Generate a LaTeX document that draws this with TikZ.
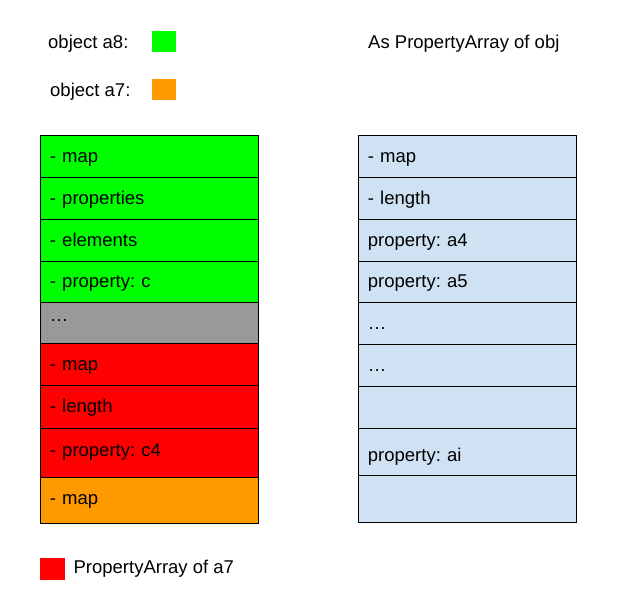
\documentclass[tikz,border=0pt]{standalone}
\usepackage{fontspec}
\setmainfont{Liberation Sans}
\usetikzlibrary{positioning}
\frenchspacing

\definecolor{objgreen}{HTML}{00FF00}
\definecolor{objorange}{HTML}{FF9900}
\definecolor{objred}{HTML}{FF0000}
\definecolor{objgray}{HTML}{999999}
\definecolor{arrblue}{HTML}{CFE2F3}

\tikzset{
  cell/.style={draw, line width=0.8pt, anchor=north west, inner xsep=9.5pt,
               inner ysep=0pt, text width=199pt, align=left, text height=14pt,
               text depth=2pt, minimum height=#1},
  key/.style={anchor=north west, minimum width=24pt, minimum height=21pt, inner sep=0pt},
  lbl/.style={anchor=west, inner sep=0pt},
}

\begin{document}
\begin{tikzpicture}[x=1pt, y=-1pt, every node/.append style={font=\fontsize{18.5}{22}\selectfont}]
    \useasboundingbox (0,0) rectangle (630,605);
    % legend
    \node[lbl] (a8txt) at (48,44) {object a8:};
    \node[key, fill=objgreen] (a8key) at (152,31) {};
    \node[lbl] (a7txt) at (50,92) {object a7:};
    \node[key, fill=objorange] (a7key) at (152,79) {};
    \node[lbl] (arrtitle) at (368,44) {As PropertyArray of obj};
    % object a8 / a7 in memory
    \foreach \i/\y/\h/\c/\t in {1/135/42/objgreen/- map,
                                2/177/42/objgreen/- properties,
                                3/219/42/objgreen/- elements,
                                4/261/41/objgreen/- property: c,
                                5/302/41/objgray/{\raisebox{7pt}{…}},
                                6/343/42/objred/- map,
                                7/385/43/objred/- length,
                                8/428/49/objred/{\raisebox{2pt}{- property: c4}},
                                9/477/46/objorange/{\raisebox{2pt}{- map}}}
      \node[cell=\h, fill=\c] (lcell\i) at (40,\y) {\t};
    % the PropertyArray
    \foreach \i/\y/\h/\t in {1/135/42/- map,
                             2/177/42/- length,
                             3/219/42/property: a4,
                             4/261/41/property: a5,
                             5/302/42/…,
                             6/344/42/…,
                             7/386/42/,
                             8/428/47/{\raisebox{-4pt}{property: ai}},
                             9/475/47/}
      \node[cell=\h, fill=arrblue] (rcell\i) at (358,\y) {\t};
    % key below
    \node[key, minimum width=25pt, minimum height=22pt, fill=objred] (redkey) at (40,558) {};
    \node[lbl, right=8pt of redkey] (redtxt) {PropertyArray of a7};
\end{tikzpicture}
\end{document}
